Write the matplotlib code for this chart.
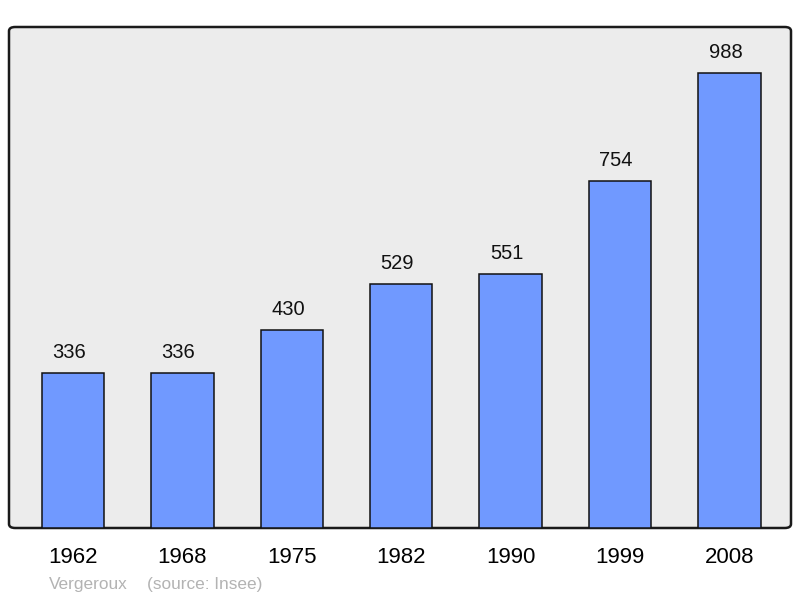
import matplotlib.pyplot as plt
from matplotlib.patches import FancyBboxPatch

years = ["1962", "1968", "1975", "1982", "1990", "1999", "2008"]
population = [336, 336, 430, 529, 551, 754, 988]

plt.rcParams["font.family"] = ["Liberation Sans", "DejaVu Sans"]

fig = plt.figure(figsize=(8, 5.98), dpi=100)
# axes box in pixels: x 9..791, y 27..528 (from top)
ax = fig.add_axes([9 / 800, (598 - 528) / 598, 782 / 800, 501 / 598])
ax.set_facecolor("none")

frame = FancyBboxPatch((0, 0), 1, 1, boxstyle="round,pad=0,rounding_size=0.008",
                       transform=ax.transAxes, facecolor="#ececec",
                       edgecolor="#1a1a1a", linewidth=1.8, zorder=0, clip_on=False)
ax.add_patch(frame)

x = list(range(len(years)))
ax.bar(x, population, width=0.57, color="#7099ff", edgecolor="#111111",
       linewidth=1.1, zorder=2)
for xi, v in zip(x, population):
    ax.annotate(str(v), (xi, v), xytext=(-4, 11), textcoords="offset pixels",
                ha="center", va="bottom", fontsize=14.5, color="#111111")

ax.set_xlim(-0.585, 6.562)
ax.set_ylim(0, 1088)
ax.set_yticks([])
ax.set_xticks(x)
ax.set_xticklabels(years, fontsize=16)
ax.tick_params(axis="x", length=0, pad=14)
for s in ax.spines.values():
    s.set_visible(False)

fig.text(49 / 800, 1 - 584 / 598, "Vergeroux", fontsize=12.4, color="#b3b3b3",
         ha="left", va="center")
fig.text(147 / 800, 1 - 584 / 598, "(source: Insee)", fontsize=12.4, color="#b3b3b3",
         ha="left", va="center")

fig.savefig("out.png", dpi=100)
